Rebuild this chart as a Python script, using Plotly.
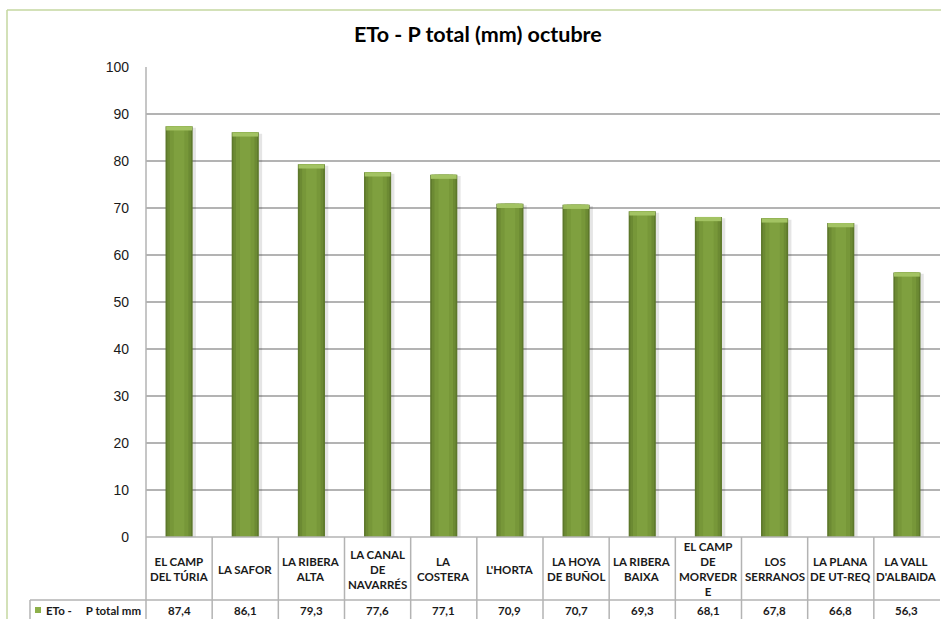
import plotly.graph_objects as go

categories = ["EL CAMP<br>DEL TÚRIA", "LA SAFOR", "LA RIBERA<br>ALTA", "LA CANAL<br>DE<br>NAVARRÉS",
              "LA<br>COSTERA", "L'HORTA", "LA HOYA<br>DE BUÑOL", "LA RIBERA<br>BAIXA",
              "EL CAMP<br>DE<br>MORVEDR<br>E", "LOS<br>SERRANOS", "LA PLANA<br>DE UT-REQ", "LA VALL<br>D'ALBAIDA"]
values = [87.4, 86.1, 79.3, 77.6, 77.1, 70.9, 70.7, 69.3, 68.1, 67.8, 66.8, 56.3]
series_name = "ETo -\u00a0\u00a0\u00a0\u00a0\u00a0P total mm"
title = "ETo - P total (mm) octubre"
y_ticks = [0, 10, 20, 30, 40, 50, 60, 70, 80, 90, 100]

x = list(range(len(values)))
cap = 0.9

fig = go.Figure()
# shadow
fig.add_trace(go.Bar(x=[i + 0.03 for i in x], y=[v - 0.3 for v in values], width=0.45,
                     marker=dict(color="rgba(0,0,0,0.10)", line=dict(width=0)), hoverinfo="skip"))
# cylinder body layers
for w, col in [(0.41, "#5d782b"), (0.36, "#6c8a33"), (0.28, "#779739"), (0.16, "#7fa03f")]:
    fig.add_trace(go.Bar(x=x, y=values, width=w,
                         marker=dict(color=col, line=dict(width=0)), hoverinfo="skip"))
# top cap
fig.add_trace(go.Bar(x=x, y=[cap] * len(values), base=[v - cap for v in values], width=0.39,
                     marker=dict(color="#a3c363", line=dict(width=0)), hoverinfo="skip"))

L, R, T, B = 146, 1, 67, 82
W, H = 941, 619
ph = H - T - B
pw = W - L - R

def py(pix):
    return (H - B - pix) / ph

def px(pix):
    return (pix - L) / pw

grid = "#b3b3b3"
shapes = []
# outer chart border (light green)
shapes.append(dict(type="line", xref="paper", yref="paper", x0=px(7), x1=px(945), y0=py(10), y1=py(10),
                   line=dict(color="#c5d7a0", width=1.5)))
shapes.append(dict(type="line", xref="paper", yref="paper", x0=px(7), x1=px(7), y0=py(10), y1=py(625),
                   line=dict(color="#c5d7a0", width=1.5)))
# table lines
shapes.append(dict(type="line", xref="paper", yref="paper", x0=0, x1=1, y0=0, y1=0,
                   line=dict(color=grid, width=1.5)))
shapes.append(dict(type="line", xref="paper", yref="paper", x0=px(30), x1=1, y0=py(600), y1=py(600),
                   line=dict(color=grid, width=1.5)))
shapes.append(dict(type="line", xref="paper", yref="paper", x0=0, x1=0, y0=1, y1=py(625),
                   line=dict(color=grid, width=1.5)))
shapes.append(dict(type="line", xref="paper", yref="paper", x0=px(30), x1=px(30), y0=py(600), y1=py(625),
                   line=dict(color=grid, width=1.5)))
for i in x[:-1]:
    shapes.append(dict(type="line", xref="x", yref="paper", x0=i + 0.5, x1=i + 0.5, y0=0, y1=py(625),
                       line=dict(color=grid, width=1.5)))
# legend key
shapes.append(dict(type="rect", xref="paper", yref="paper", x0=px(35), x1=px(41), y0=py(613), y1=py(607),
                   fillcolor="#8db04a", line=dict(width=0)))

font_tbl = dict(family="Lato, Noto Sans, sans-serif", size=11.5, color="#1a1a1a")
annotations = []
for i, (c, v) in enumerate(zip(categories, values)):
    annotations.append(dict(x=i, y=py(569), xref="x", yref="paper", text="<b>%s</b>" % c, showarrow=False,
                            xanchor="center", yanchor="middle", font=font_tbl))
    annotations.append(dict(x=i, y=py(610), xref="x", yref="paper", text="<b>%s</b>" % f"{v:.1f}".replace(".", ","),
                            showarrow=False, xanchor="center", yanchor="middle", font=font_tbl))
annotations.append(dict(x=px(44), y=py(610), xref="paper", yref="paper", text="<b>%s</b>" % series_name,
                        showarrow=False, xanchor="left", yanchor="middle", font=font_tbl))
annotations.append(dict(x=px(478), y=py(34), xref="paper", yref="paper", text="<b>%s</b>" % title,
                        showarrow=False, xanchor="center", yanchor="middle",
                        font=dict(family="Lato, Noto Sans, sans-serif", size=21.5, color="#000000")))

fig.update_layout(
    width=W, height=H, margin=dict(l=L, r=R, t=T, b=B),
    paper_bgcolor="white", plot_bgcolor="white",
    barmode="overlay", showlegend=False,
    shapes=shapes, annotations=annotations,
    xaxis=dict(range=[-0.5, len(values) - 0.5], showticklabels=False, showgrid=False, zeroline=False,
               fixedrange=True, ticks=""),
    yaxis=dict(range=[0, 100], tickvals=y_ticks, showgrid=True, gridcolor=grid, gridwidth=1.5,
               zeroline=False, showline=False, ticks="", ticklabelstandoff=16,
               tickfont=dict(family="Liberation Sans, Arial, sans-serif", size=14, color="#1a1a1a")),
)

fig.write_html("out.html")
